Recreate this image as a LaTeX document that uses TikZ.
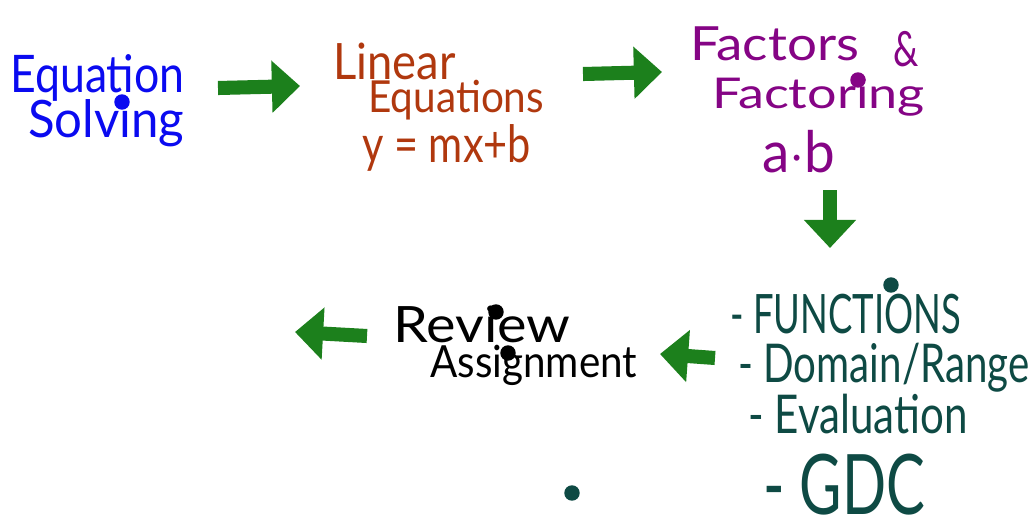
\documentclass[tikz,border=0pt]{standalone}
\usepackage{fontspec}
\setmainfont{Lato}
\usetikzlibrary{arrows.meta}
\definecolor{penblue}{HTML}{0A0AF0}
\definecolor{penbrown}{HTML}{B0380E}
\definecolor{penpurple}{HTML}{850485}
\definecolor{penteal}{HTML}{0E4A44}
\definecolor{pengreen}{HTML}{1C801C}
\newcommand{\handw}[3]{\resizebox{#1}{#2}{#3}}

\begin{document}
\begin{tikzpicture}[x=0.025cm,y=-0.025cm,
  hand/.style={anchor=base west,inner sep=0pt},
  bigarrow/.style={draw=pengreen,line width=10pt,-{Triangle[length=20pt,width=36pt]}},
  pendot/.style={circle,inner sep=0pt,minimum size=11pt}]
\useasboundingbox (0,0) rectangle (1035,522);

% first row
\node[hand,text=penblue] (equation) at (10,92) {\handw{124pt}{27pt}{Equation}};
\node[hand,text=penblue] (solving) at (28,137) {\handw{111pt}{27pt}{Solving}};
\node[pendot,fill=penblue] (dotsolve) at (122,102) {};

\node[hand,text=penbrown] (linear) at (333,79) {\handw{87pt}{26pt}{Linear}};
\node[hand,text=penbrown] (equations) at (368,112) {\handw{125pt}{23pt}{Equations}};
\node[hand,text=penbrown] (slope) at (362,162) {\handw{120pt}{27pt}{y = mx+b}};

\node[hand,text=penpurple] (factors) at (690,60) {\handw{120pt}{24pt}{Factors}};
\node[hand,text=penpurple] (amp) at (893,66) {\handw{18pt}{25pt}{\&}};
\node[hand,text=penpurple] (factoring) at (712,108) {\handw{151pt}{22pt}{Factoring}};
\node[hand,text=penpurple] (product) at (762,172) {\handw{52pt}{30pt}{a$\cdot$b}};
\node[pendot,fill=penpurple] (dotfact) at (858,80) {};

% list on the right
\node[hand,text=penteal] (functions) at (730,333) {\handw{164pt}{28pt}{- FUNCTIONS}};
\node[hand,text=penteal] (domain) at (738,382) {\handw{207pt}{28pt}{- Domain/Range}};
\node[hand,text=penteal] (evaluation) at (748,433) {\handw{156pt}{28pt}{- Evaluation}};
\node[hand,text=penteal] (gdc) at (763,514) {\handw{115pt}{43pt}{- GDC}};
\node[pendot,fill=penteal] (dotfunc) at (891,285) {};
\node[pendot,fill=penteal] (dotlow) at (572,493) {};

% review
\node[hand] (review) at (393,342) {\handw{126pt}{26pt}{Review}};
\node[hand] (assignment) at (430,377) {\handw{147pt}{23pt}{Assignment}};
\node[pendot,fill=black] (dotrev) at (496,312) {};
\node[pendot,fill=black] (dotass) at (508,353) {};

% green arrows
\coordinate (a1s) at (218,88);
\coordinate (a1e) at (300,86);
\coordinate (a2s) at (583,74);
\coordinate (a2e) at (662,72);
\coordinate (a3s) at (830,190);
\coordinate (a3e) at (830,248);
\coordinate (a4s) at (715,358);
\coordinate (a4e) at (660,354);
\coordinate (a5s) at (367,336);
\coordinate (a5e) at (295,332);
\draw[bigarrow] (a1s) -- (a1e);
\draw[bigarrow] (a2s) -- (a2e);
\draw[bigarrow] (a3s) -- (a3e);
\draw[bigarrow] (a4s) -- (a4e);
\draw[bigarrow] (a5s) -- (a5e);
\end{tikzpicture}
\end{document}
